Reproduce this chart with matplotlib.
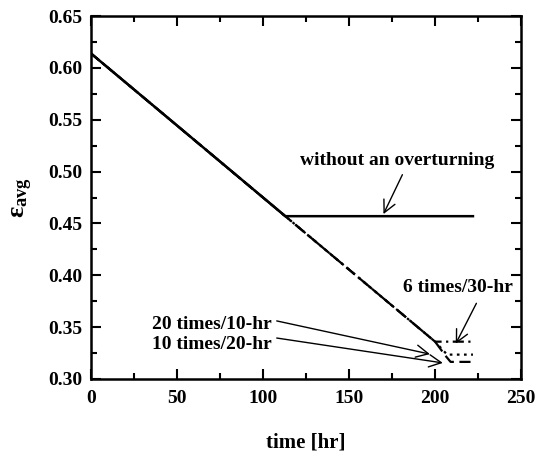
import matplotlib.pyplot as plt
from matplotlib.ticker import MultipleLocator

plt.rcParams['font.family'] = 'Liberation Serif'
plt.rcParams['font.weight'] = 'bold'
plt.rcParams['axes.labelweight'] = 'bold'
plt.rcParams['mathtext.fontset'] = 'custom'
plt.rcParams['mathtext.rm'] = 'Liberation Serif:bold'
plt.rcParams['mathtext.it'] = 'Liberation Serif:bold'

# datos
t_sin = [0, 113, 222]
e_sin = [0.614, 0.457, 0.457]

t_6 = [0, 200, 223]
e_6 = [0.614, 0.336, 0.336]

t_20 = [0, 200, 207, 222]
e_20 = [0.614, 0.336, 0.3235, 0.3235]

t_10 = [0, 200, 206, 209, 222]
e_10 = [0.614, 0.336, 0.3225, 0.3165, 0.3165]

fig = plt.figure(figsize=(5.44, 4.58), dpi=100)
ax = fig.add_axes([0.167, 0.1725, 0.791, 0.7925])

ax.plot(t_10, e_10, color='black', lw=1.6, dashes=(5, 2.5))
ax.plot(t_20, e_20, color='black', lw=1.6, dashes=(1.2, 2))
ax.plot(t_6, e_6, color='black', lw=1.6, dashes=(5, 2, 1, 2))
ax.plot(t_sin, e_sin, color='black', lw=1.8)

arr = dict(arrowstyle='->', color='black', lw=1.0, mutation_scale=22, shrinkA=0, shrinkB=0)
tam = 14
ax.text(178, 0.511, 'without an overturning', ha='center', va='center', fontsize=tam)
ax.annotate('', xy=(170, 0.459), xytext=(181, 0.497), arrowprops=arr)
ax.text(213, 0.388, '6 times/30-hr', ha='center', va='center', fontsize=tam)
ax.annotate('', xy=(212, 0.334), xytext=(224, 0.373), arrowprops=arr)
ax.text(105, 0.353, '20 times/10-hr', ha='right', va='center', fontsize=tam)
ax.annotate('', xy=(197, 0.324), xytext=(108, 0.356), arrowprops=arr)
ax.text(105, 0.333, '10 times/20-hr', ha='right', va='center', fontsize=tam)
ax.annotate('', xy=(204.5, 0.3155), xytext=(108, 0.3395), arrowprops=arr)

ax.set_xlim(0, 250)
ax.set_ylim(0.30, 0.65)
ax.xaxis.set_major_locator(MultipleLocator(50))
ax.xaxis.set_minor_locator(MultipleLocator(25))
ax.yaxis.set_major_locator(MultipleLocator(0.05))
ax.yaxis.set_minor_locator(MultipleLocator(0.025))
ax.yaxis.set_major_formatter(plt.FormatStrFormatter('%.2f'))
ax.tick_params(which='both', direction='in', top=True, right=True, width=1.5, labelsize=14)
ax.tick_params(axis='x', pad=8)
ax.tick_params(axis='y', pad=6)
ax.tick_params(which='major', length=7)
ax.tick_params(which='minor', length=4.5)
for s in ax.spines.values():
    s.set_linewidth(1.8)

ax.set_xlabel('time [hr]', fontsize=15, labelpad=18)
ax.set_ylabel(r'ε$_{\rm avg}$', fontsize=19, labelpad=10)

plt.savefig('out.png', dpi=100)
